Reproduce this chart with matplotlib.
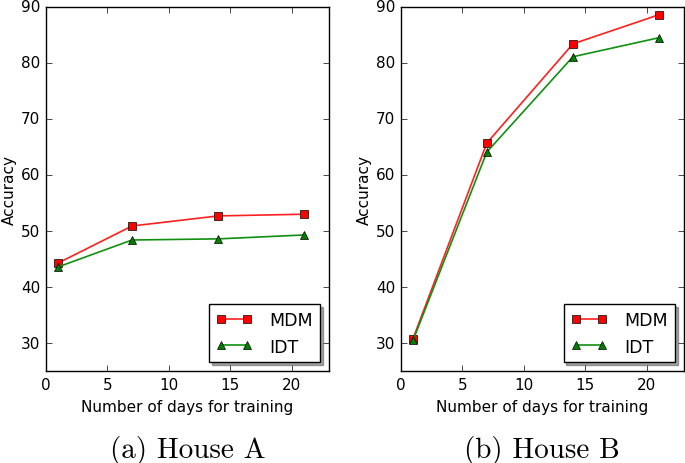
import matplotlib
matplotlib.use("Agg")
import matplotlib.pyplot as plt

days = [1, 7, 14, 21]
mdm_a = [44.3, 50.9, 52.7, 53.0]
idt_a = [43.6, 48.4, 48.6, 49.3]
mdm_b = [30.8, 65.7, 83.4, 88.6]
idt_b = [30.5, 64.1, 81.1, 84.5]
captions = ["(a) House A", "(b) House B"]

plt.style.use("classic")
plt.rcParams["figure.facecolor"] = "white"
plt.rcParams["savefig.facecolor"] = "white"
plt.rcParams["font.size"] = 11

fig = plt.figure(figsize=(6.85, 4.64), dpi=100)
ax_a = fig.add_axes([0.067, 0.198, 0.413, 0.785])
ax_b = fig.add_axes([0.585, 0.198, 0.413, 0.785])

for ax, mdm, idt, cap in [(ax_a, mdm_a, idt_a, captions[0]), (ax_b, mdm_b, idt_b, captions[1])]:
    ax.plot(days, mdm, color="#ff2020", marker="s", markersize=6, linewidth=1.2,
            markerfacecolor="red", label="MDM")
    ax.plot(days, idt, color="#109010", marker="^", markersize=6, linewidth=1.2,
            markerfacecolor="green", label="IDT")
    ax.set_xlim(0, 23)
    ax.set_ylim(25, 90)
    ax.set_xticks([0, 5, 10, 15, 20])
    ax.set_yticks([30, 40, 50, 60, 70, 80, 90])
    ax.tick_params(labelsize=11)
    ax.set_xlabel("Number of days for training", fontsize=11)
    ax.set_ylabel("Accuracy", fontsize=11, labelpad=3)
    ax.legend(loc="lower right", numpoints=2, shadow=True, fontsize=12.5,
              handletextpad=1.0, borderpad=0.4, handlelength=2.1)
    ax.text(0.5, -0.175, cap, transform=ax.transAxes, ha="center", va="top",
            family="cmr10", fontsize=21)

fig.savefig("out.png", dpi=100)
